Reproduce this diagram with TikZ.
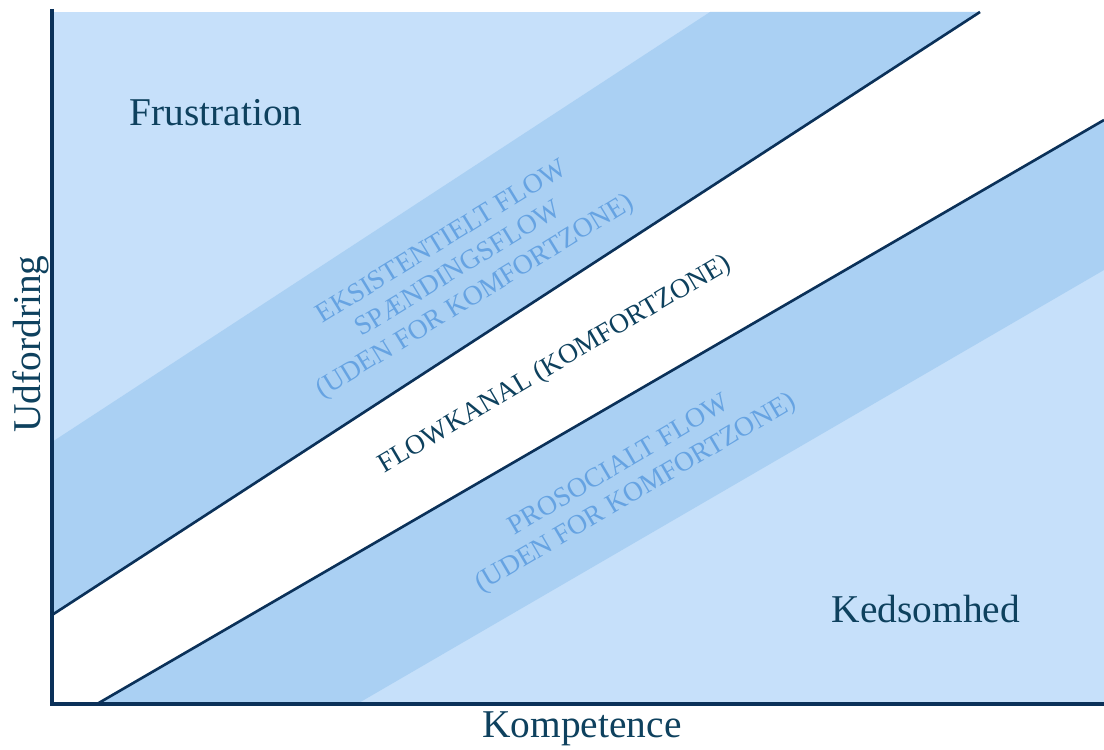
\documentclass[tikz,border=0pt]{standalone}
\usepackage{fontspec}
\setmainfont{Liberation Serif}

\definecolor{zonelight}{HTML}{C6E0FA}
\definecolor{zonedark}{HTML}{AAD0F3}
\definecolor{axisblue}{HTML}{0B3159}
\definecolor{inkteal}{HTML}{0E415E}
\definecolor{fadedblue}{HTML}{66A3E2}

\tikzset{
  axisline/.style={line width=1.3pt,draw=axisblue},
  bandline/.style={line width=0.75pt,draw=axisblue},
  zonetext/.style={font=\fontsize{11.2}{13}\selectfont,text=inkteal,inner sep=0pt},
  bandtext/.style={font=\fontsize{7.8}{9.1}\selectfont,text=fadedblue,align=center,inner sep=0pt},
}

\begin{document}
\begin{tikzpicture}[x=0.01cm,y=-0.01cm]
\useasboundingbox (0,0) rectangle (1104,749);

% zones
\fill[zonelight] (52,12) rectangle (1104,704);
\fill[zonedark] (52,442) -- (710,12) -- (980,12) -- (52,615) -- cycle;
\fill[white] (52,615) -- (980,12) -- (1104,12) -- (1104,120) -- (97,704) -- (52,704) -- cycle;
\fill[zonedark] (97,704) -- (1104,120) -- (1104,270) -- (357,704) -- cycle;

% channel borders
\coordinate (U1) at (52,615);
\coordinate (U2) at (980,12);
\coordinate (L1) at (97,704);
\coordinate (L2) at (1104,120);
\draw[bandline] (U1) -- (U2);
\draw[bandline] (L1) -- (L2);

% axes
\coordinate (O) at (52,704);
\coordinate (Ytop) at (52,9);
\coordinate (Xend) at (1104,704);
\draw[axisline] (Ytop) -- (O) -- (Xend);

\node (frust) at (216,113)[zonetext] {Frustration};
\node (keds) at (926,609)[zonetext] {Kedsomhed};
\node (komp) at (582,729)[zonetext] {Kompetence};
\node (udf) at (31,344)[zonetext,rotate=90] {Udfordring};

\node (kanal) at (555,365)[bandtext,text=inkteal,rotate=30.5] {FLOWKANAL (KOMFORTZONE)};
\node (eksist) at (459,270)[bandtext,rotate=31.5] {EKSISTENTIELT FLOW\\SPÆNDINGSFLOW\\(UDEN FOR KOMFORTZONE)};
\node (prosoc) at (628,480)[bandtext,rotate=30.5] {PROSOCIALT FLOW\\(UDEN FOR KOMFORTZONE)};
\end{tikzpicture}
\end{document}
